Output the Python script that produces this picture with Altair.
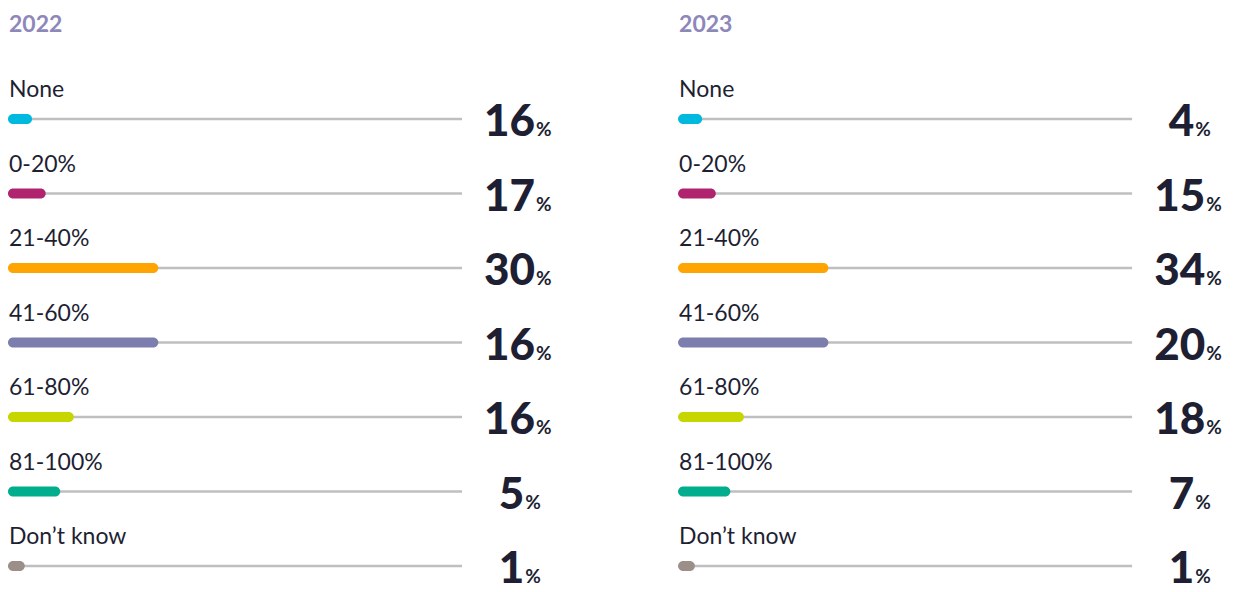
import altair as alt
import pandas as pd

# ---- data ----
years = ["2022", "2023"]
categories = ["None", "0-20%", "21-40%", "41-60%", "61-80%", "81-100%", "Don\u2019t know"]
values_2022 = [16, 17, 30, 16, 16, 5, 1]
values_2023 = [4, 15, 34, 20, 18, 7, 1]
# displayed bar lengths (share of the grey track, as drawn in the picture)
bar_lengths = [5.3, 8.3, 33.1, 33.1, 14.5, 11.5, 3.7]
colors = ["#00B9DF", "#B0246F", "#FFA400", "#7C7FAD", "#C8D600", "#00AD8C", "#9C8F89"]

rows = []
for yr, vals in zip(years, [values_2022, values_2023]):
    for c, v, b in zip(categories, vals, bar_lengths):
        rows.append({"year": yr, "cat": c, "value": v, "bar": b})
df = pd.DataFrame(rows)
titles_df = pd.DataFrame({"year": years})

TEXT = "#1E1F33"
OFFSET = "datum.year == '2023' ? 147.6 : 0"

xs = alt.Scale(domain=[0, 100], range=[0, 454])
ys = alt.Scale(type="point", domain=categories, range=[111, 558], padding=0)

base = alt.Chart(df).transform_calculate(
    off=OFFSET,
).transform_calculate(
    start="datum.off",
    end="datum.off + datum.bar",
    track_end="datum.off + 100",
    anchor="datum.off + 113 + (datum.value >= 10 ? 3.1 : 0.7)",
    pct="'%'",
)

X = lambda f: alt.X(f, type="quantitative", scale=xs, axis=None)
Y = alt.Y("cat:N", scale=ys, axis=None, sort=categories)

track = base.mark_rule(color="#BFBFBF", strokeWidth=2.5).encode(
    x=X("start"), x2="track_end:Q", y=Y
)

bars = base.mark_bar(height=10, cornerRadius=5).encode(
    x=X("start"), x2="end:Q", y=Y,
    color=alt.Color("cat:N", scale=alt.Scale(domain=categories, range=colors), legend=None),
)

labels = base.mark_text(
    align="left", baseline="alphabetic", dx=1, dy=-22, fontSize=23, font="Lato", color=TEXT
).encode(x=X("start"), y=Y, text="cat:N")

numbers = base.mark_text(
    align="right", baseline="alphabetic", dy=17, fontSize=44, fontWeight=900, font="Lato", color=TEXT
).encode(x=X("anchor"), y=Y, text="value:Q")

pcts = base.mark_text(
    align="left", baseline="alphabetic", dx=1, dy=17, fontSize=19, fontWeight="bold", font="Lato", color=TEXT
).encode(x=X("anchor"), y=Y, text="pct:N")

titles = alt.Chart(titles_df).transform_calculate(off=OFFSET).mark_text(
    align="left", baseline="alphabetic", dx=1, fontSize=23, fontWeight="bold", font="Lato", color="#8E88BA"
).encode(x=X("off"), y=alt.value(24), text="year:N")

chart = alt.layer(track, bars, labels, numbers, pcts, titles).properties(
    width=1222, height=584, padding=0,
    autosize=alt.AutoSizeParams(type="none"),
).configure_view(stroke=None)

chart.save("out.html", embed_options={"renderer": "svg", "actions": False})
